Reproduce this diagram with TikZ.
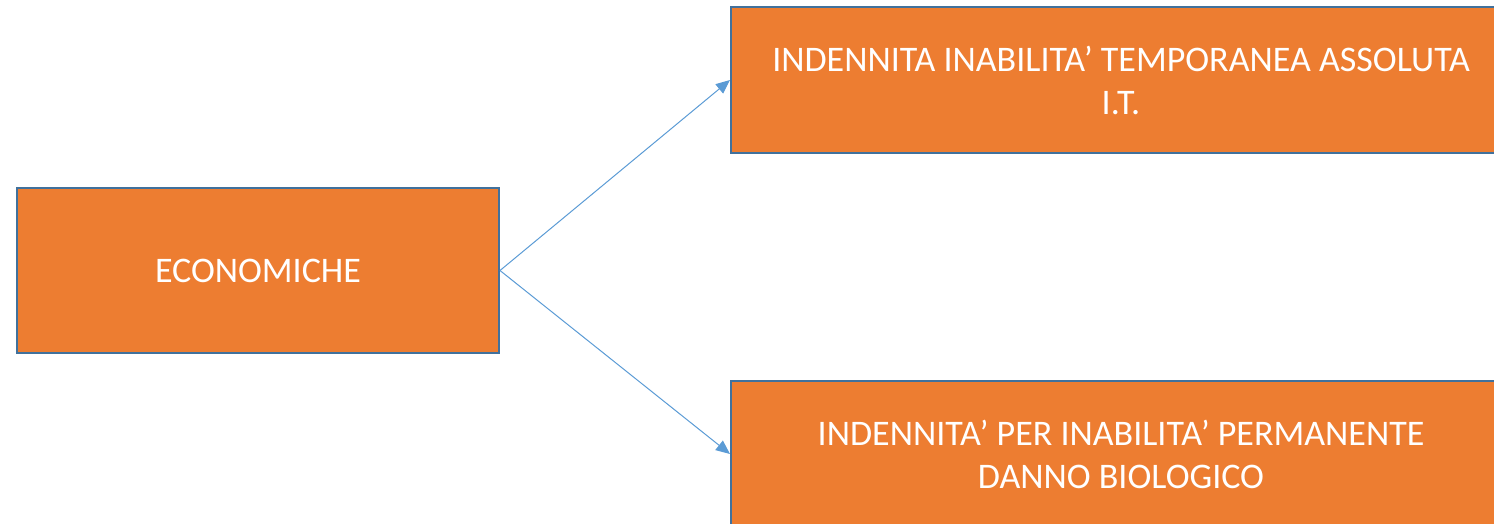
\documentclass[tikz,border=0pt]{standalone}
\usepackage{fontspec}
\setmainfont{Carlito}
\usetikzlibrary{arrows.meta,positioning}
\definecolor{boxorange}{HTML}{ED7D31}
\definecolor{boxedge}{HTML}{41719C}
\definecolor{linkblue}{HTML}{5B9BD5}
\tikzset{
  voce/.style={draw=boxedge, line width=2pt, fill=boxorange, text=white, align=center, inner sep=0pt,
    font=\fontsize{36}{43}\selectfont},
  arr/.style={-{Triangle[length=14pt, width=12pt]}, line width=1pt, color=linkblue},
}

\begin{document}
\begin{tikzpicture}[x=1pt, y=-1pt]
    \useasboundingbox (0,0) rectangle (1494,523);
    \node[voce, minimum width=482pt, minimum height=165pt] (eco) at (258,270.5) {ECONOMICHE};
    \node[voce, minimum width=780pt, minimum height=146pt] (it) at (1121,80) {INDENNITA INABILITA’ TEMPORANEA ASSOLUTA\\I.T.};
    \node[voce, minimum width=780pt, minimum height=146pt] (ip) at (1121,454) {INDENNITA’ PER INABILITA’ PERMANENTE\\DANNO BIOLOGICO};
    \draw[arr] (eco.east)--(it.west); \draw[arr] (eco.east)--(ip.west);
  \end{tikzpicture}
\end{document}
